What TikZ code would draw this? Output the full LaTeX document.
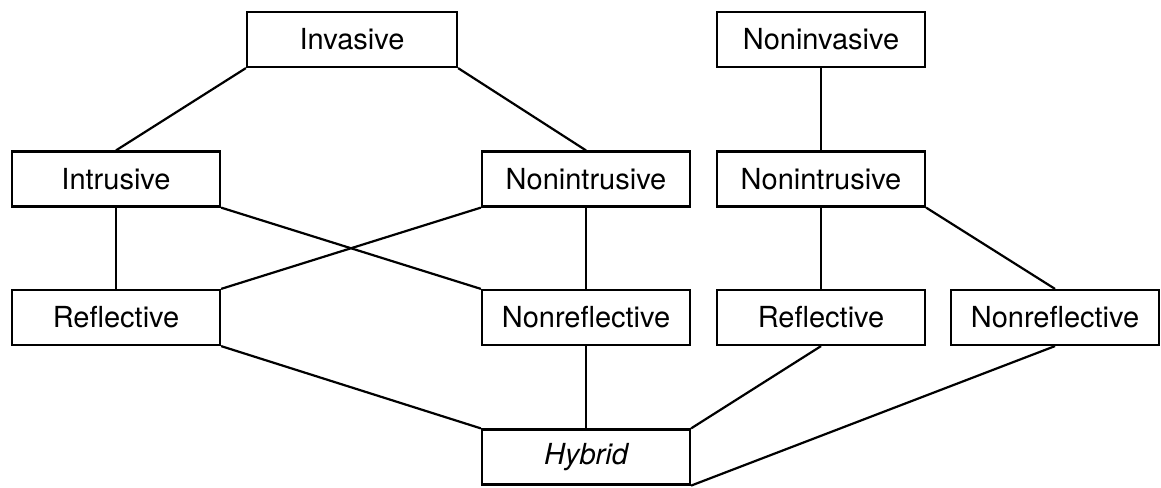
\documentclass[tikz,border=0pt]{standalone}
\usepackage{fontspec}
\setmainfont{TeX Gyre Heros}
\begin{document}
\begin{tikzpicture}[x=1pt,y=-1pt,
  box/.style={draw,line width=2.2pt,rectangle,minimum width=208pt,minimum height=55pt,inner sep=0pt,font=\fontsize{29}{34}\selectfont},
  link/.style={line width=2.2pt}]
\useasboundingbox (0,0) rectangle (1161,487);
\node[box,minimum width=210pt] (inv) at (352,39.5) {Invasive};
\node[box] (ninv) at (821,39.5) {Noninvasive};
\node[box] (intr) at (116,179) {Intrusive};
\node[box] (nintrL) at (586,179) {Nonintrusive};
\node[box] (nintrR) at (821,179) {Nonintrusive};
\node[box] (reflL) at (116,317.5) {Reflective};
\node[box] (nreflL) at (586,317.5) {Nonreflective};
\node[box] (reflR) at (821,317.5) {Reflective};
\node[box] (nreflR) at (1055,317.5) {Nonreflective};
\node[box] (hyb) at (586,457) {\itshape Hybrid};
\draw[link] (inv.south west) -- (intr.north);
\draw[link] (inv.south east) -- (nintrL.north);
\draw[link] (intr.south) -- (reflL.north);
\draw[link] (intr.south east) -- (nreflL.north west);
\draw[link] (nintrL.south west) -- (reflL.north east);
\draw[link] (nintrL.south) -- (nreflL.north);
\draw[link] (ninv.south) -- (nintrR.north);
\draw[link] (nintrR.south) -- (reflR.north);
\draw[link] (nintrR.south east) -- (nreflR.north);
\draw[link] (reflL.south east) -- (hyb.north west);
\draw[link] (nreflL.south) -- (hyb.north);
\draw[link] (reflR.south) -- (hyb.north east);
\draw[link] (nreflR.south) -- (hyb.south east);
\end{tikzpicture}
\end{document}
